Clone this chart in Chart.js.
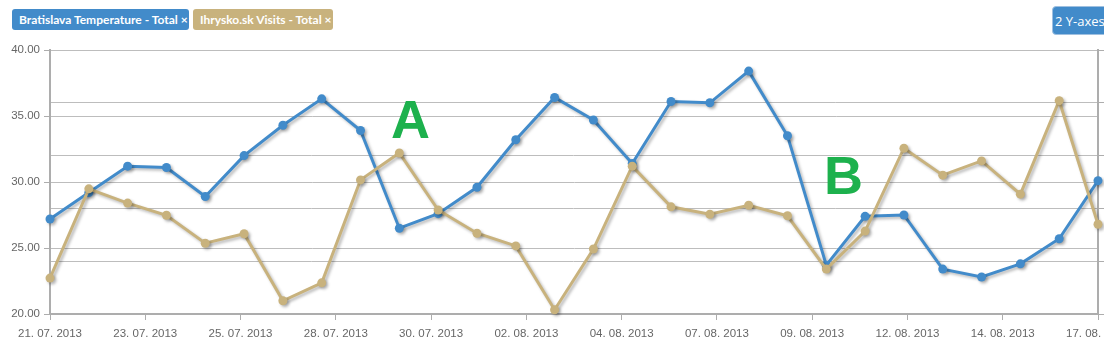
<!DOCTYPE html>
<html>
<head>
<meta charset="utf-8">
<script src="https://cdn.jsdelivr.net/npm/chart.js@4"></script>
<style>
  html, body { margin: 0; padding: 0; background: #fff; }
  #wrap { position: relative; width: 1104px; height: 346px; overflow: hidden; }
  canvas { position: absolute; left: 0; top: 0; }
  .pill { position: absolute; top: 9px; height: 21px; line-height: 21px; border-radius: 3px; color: #fff;
          font-family: "Lato", "Open Sans", sans-serif; font-weight: bold; font-size: 12px; padding: 0 0 0 7px; box-sizing: border-box; white-space: nowrap; }
  #btn { position: absolute; left: 1052px; top: 6px; width: 60px; height: 29px; line-height: 28px; border-radius: 4px;
         background: #428bca; border: 1px solid #9fc0e0; color: #fff; font-family: "Open Sans", sans-serif; font-size: 13px;
         box-sizing: border-box; padding-left: 2px; white-space: nowrap; }
  .big { position: absolute; font-family: "Liberation Sans", Arial, sans-serif; font-weight: bold; font-size: 54px; color: #1db14d; line-height: 1; }
</style>
</head>
<body>
<div id="wrap">
  <canvas id="c" width="1104" height="346"></canvas>
  <div class="pill" style="left:12px;width:177px;background:#428bca;">Bratislava Temperature - Total ×</div>
  <div class="pill" style="left:193px;width:140px;background:#c8b27d;">Ihrysko.sk Visits - Total ×</div>
  <div id="btn">2 Y-axes</div>
  <div class="big" style="left:391px;top:92px;">A</div>
  <div class="big" style="left:824px;top:148px;">B</div>
</div>
<script>
const dates = ["21.07","22.07","23.07","24.07","25.07","26.07","27.07","28.07","29.07","30.07","31.07","01.08","02.08","03.08","04.08","05.08","06.08","07.08","08.08","09.08","10.08","11.08","12.08","13.08","14.08","15.08","16.08","17.08"];
const temperature = [27.2,29.2,31.2,31.1,28.9,32.0,34.3,36.3,33.9,26.5,27.6,29.6,33.2,36.4,34.7,31.4,36.1,36.0,38.4,33.5,23.7,27.4,27.5,23.4,22.8,23.8,25.7,30.1];
const visits = [68,237,210,187,134,152,25,59,254,305,197,153,129,8,123,280,203,189,206,186,85,157,314,263,290,227,404,170];
const xTickLabels = ["21. 07. 2013","23. 07. 2013","25. 07. 2013","28. 07. 2013","30. 07. 2013","02. 08. 2013","04. 08. 2013","07. 08. 2013","09. 08. 2013","12. 08. 2013","14. 08. 2013","17. 08. 2013"];
const leftTicks = [20, 25, 30, 35, 40];
const rightTicks = [0, 100, 200, 300, 400, 500];

const BLUE = '#428bca', TAN = '#c8b27d', GRID = '#bdbdbd', AXIS = '#adadad', TXT = '#666';

const shadowPlugin = {
  id: 'shadow',
  beforeDatasetDraw(chart) {
    const ctx = chart.ctx; ctx.save();
    ctx.shadowColor = 'rgba(0,0,0,0.28)'; ctx.shadowOffsetX = 2; ctx.shadowOffsetY = 2; ctx.shadowBlur = 3;
  },
  afterDatasetDraw(chart) { chart.ctx.restore(); }
};

const lastX = dates.length - 1;
new Chart(document.getElementById('c'), {
  type: 'line',
  data: {
    datasets: [
      { label: 'Ihrysko.sk Visits - Total', data: visits.map((v, i) => ({x: i, y: v})), yAxisID: 'y2',
        borderColor: TAN, backgroundColor: TAN, borderWidth: 3, pointRadius: 4.5, pointBorderWidth: 0, tension: 0, order: 0 },
      { label: 'Bratislava Temperature - Total', data: temperature.map((v, i) => ({x: i, y: v})), yAxisID: 'y',
        borderColor: BLUE, backgroundColor: BLUE, borderWidth: 3, pointRadius: 4.5, pointBorderWidth: 0, tension: 0, order: 1 }
    ]
  },
  options: {
    responsive: false, animation: false, clip: false,
    layout: { padding: { top: 50, left: 0, right: 0, bottom: 0 } },
    plugins: { legend: { display: false }, tooltip: { enabled: false } },
    scales: {
      x: {
        type: 'linear', min: 0, max: lastX,
        afterBuildTicks(s) { s.ticks = xTickLabels.map((l, i) => ({ value: i * lastX / (xTickLabels.length - 1) })); },
        afterFit(s) { s.height = 32; s.paddingLeft = 0; s.paddingRight = 0; },
        ticks: { autoSkip: false, maxRotation: 0, padding: 7, color: TXT, font: { family: 'Liberation Sans', size: 11.5 },
                 callback: (v, i) => xTickLabels[i] },
        grid: { drawOnChartArea: false, drawTicks: true, tickLength: 6, tickColor: AXIS, tickWidth: 1 },
        border: { display: true, color: AXIS, width: 2 }
      },
      y: {
        position: 'left', min: leftTicks[0], max: leftTicks[leftTicks.length - 1],
        afterBuildTicks(s) { s.ticks = leftTicks.map(v => ({ value: v })); },
        afterFit(s) { s.width = 50; },
        ticks: { padding: 4, color: TXT, font: { family: 'Liberation Sans', size: 11.5 }, callback: v => Number(v).toFixed(2) },
        grid: { color: GRID, lineWidth: 1, tickLength: 6, tickColor: AXIS },
        border: { display: true, color: AXIS, width: 2 }
      },
      y2: {
        position: 'right', min: rightTicks[0], max: rightTicks[rightTicks.length - 1],
        afterBuildTicks(s) { s.ticks = rightTicks.map(v => ({ value: v })); },
        afterFit(s) { s.width = 6; },
        ticks: { display: false },
        grid: { color: GRID, lineWidth: 1, tickLength: 6, tickColor: AXIS },
        border: { display: true, color: AXIS, width: 2 }
      }
    }
  },
  plugins: [shadowPlugin]
});
</script>
</body>
</html>
